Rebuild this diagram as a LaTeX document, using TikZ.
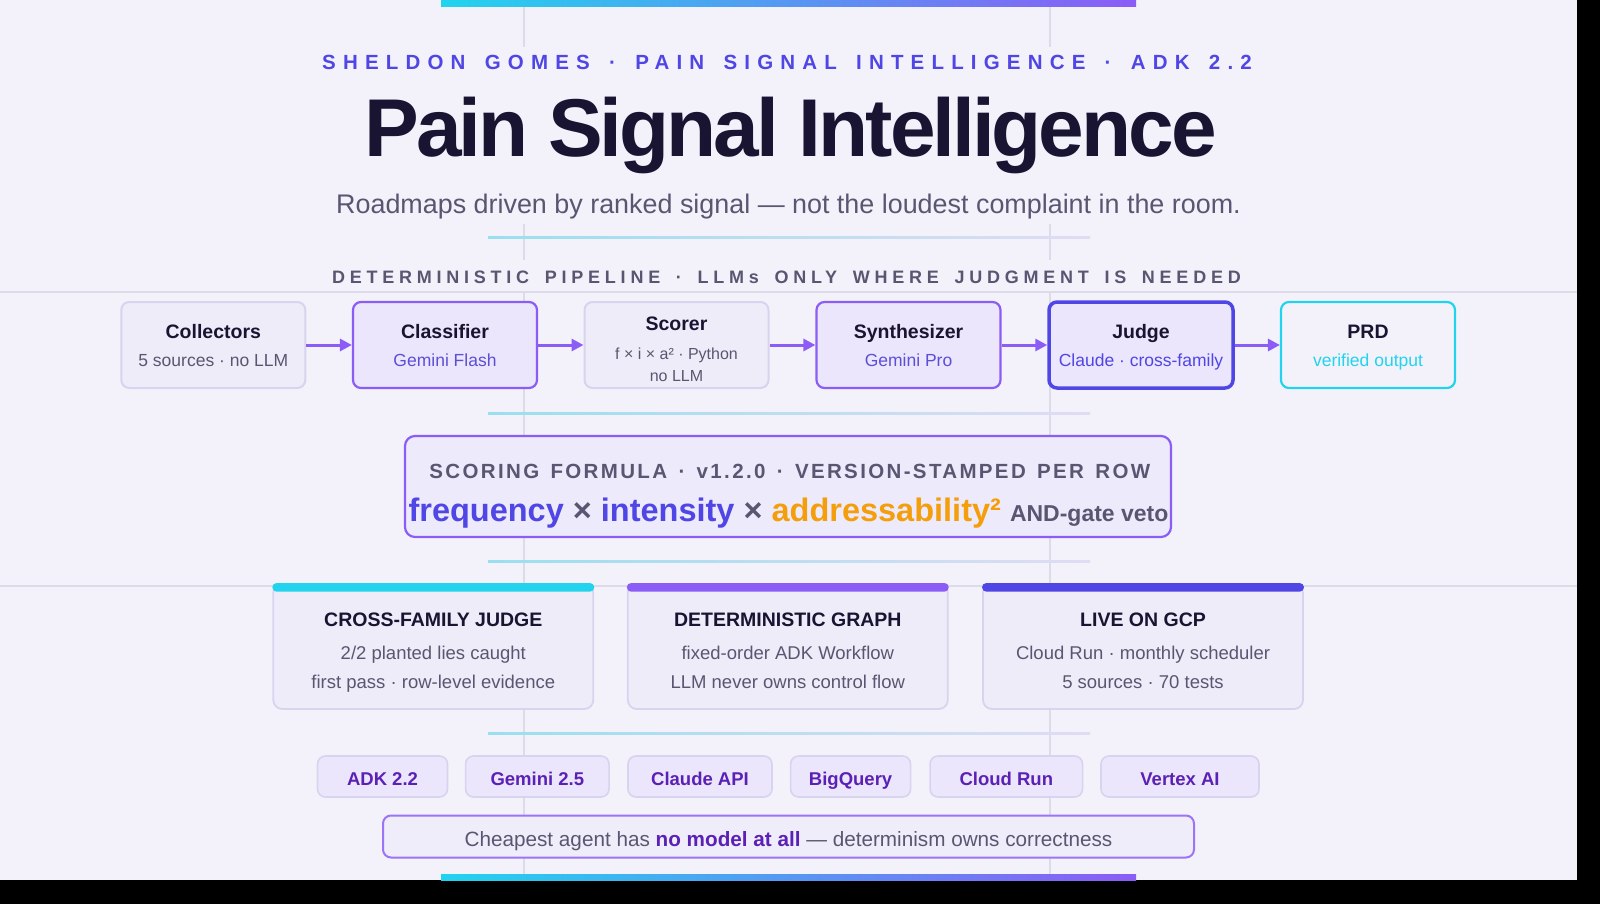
\documentclass[tikz,border=0pt]{standalone}
\usepackage{fontspec}
\setmainfont{Liberation Sans}
\newfontfamily\kickerfont[LetterSpace=35,WordSpace=1.5]{Liberation Sans}
\newfontfamily\trackfont[LetterSpace=26.5,WordSpace=1.6]{Liberation Sans}
\newfontfamily\formulafont[LetterSpace=11.5,WordSpace=1.41]{Liberation Sans}
\newfontfamily\headlinefont[LetterSpace=-3.7]{Liberation Sans}
\usetikzlibrary{arrows.meta}

\definecolor{pagebg}{HTML}{F3F2FB}
\definecolor{ink}{HTML}{1A1433}
\definecolor{muted}{HTML}{5A5672}
\definecolor{brandindigo}{HTML}{4F46E5}
\definecolor{brandviolet}{HTML}{8B5CF6}
\definecolor{brandcyan}{HTML}{22D3EE}
\definecolor{brandamber}{HTML}{F59E0B}
\definecolor{grape}{HTML}{5B21B6}
\definecolor{softfill}{HTML}{EEECF9}
\definecolor{softline}{HTML}{D8D3EE}
\definecolor{agentfill}{HTML}{EBE6FB}
\definecolor{agenttext}{HTML}{5B4FD6}
\definecolor{gridline}{HTML}{DDDAEA}
\definecolor{sepstart}{HTML}{9ADFEE}
\definecolor{sepend}{HTML}{E0DCF3}

\newcommand{\stagetitle}[1]{{\fontsize{19.5}{22}\selectfont\bfseries\color{ink}#1}}

\begin{document}
\begin{tikzpicture}[x=1pt,y=-1pt,
  textline/.style={anchor=base, inner sep=0pt},
  stage/.style={draw=softline, line width=2pt, fill=softfill, rounded corners=8pt,
    minimum width=184pt, minimum height=86pt, inner sep=0pt, align=center,
    text height=42.6pt, text depth=0pt, text=muted, font=\fontsize{17.5}{22}\selectfont},
  llmstage/.style={stage, draw=brandviolet, line width=2.2pt, fill=agentfill, text=agenttext},
  flow/.style={-{Triangle[length=12pt,width=12pt]}, line width=3pt, draw=brandviolet},
  card/.style={draw=softline, line width=1.8pt, fill=softfill, rounded corners=9pt,
    minimum width=320pt, minimum height=125pt},
  cardtitle/.style={textline, text=ink, font=\fontsize{19.5}{22}\selectfont\bfseries},
  cardline/.style={textline, text=muted, font=\fontsize{18.5}{22}\selectfont},
  chip/.style={draw=softline, line width=1.6pt, fill=agentfill, rounded corners=8pt,
    minimum height=41pt, inner sep=0pt, text height=18.3pt, text depth=0pt,
    text=grape, font=\fontsize{18.5}{22}\selectfont\bfseries}]
\useasboundingbox (0,0) rectangle (1600,904);
\fill[black] (0,0) rectangle (1600,904);
\fill[pagebg] (0,0) rectangle (1577,880);

% guide lines
\foreach \gx in {524,1050} {
  \draw[gridline, line width=1.2pt] (\gx,0) -- (\gx,47);
  \draw[gridline, line width=1.2pt] (\gx,224) -- (\gx,260);
  \draw[gridline, line width=1.2pt] (\gx,292) -- (\gx,880);
}
\draw[gridline, line width=1.5pt] (0,292) -- (1577,292);
\draw[gridline, line width=1.5pt] (0,586) -- (1577,586);

% accent bars and separators
\shade[left color=brandcyan, right color=brandviolet] (441,0) rectangle (1136,6.5);
\shade[left color=brandcyan, right color=brandviolet] (441,874) rectangle (1136,880);
\foreach \sy in {237,413,561,733}
  \shade[left color=sepstart, right color=sepend] (488,\sy-1) rectangle (1090,\sy+1);

% header
\node[textline, text=brandindigo, font=\kickerfont\fontsize{20.5}{24}\selectfont\bfseries] (kicker) at (787,70) {SHELDON GOMES · PAIN SIGNAL INTELLIGENCE · ADK 2.2};
\node[textline, text=ink, font=\headlinefont\fontsize{82}{90}\selectfont\bfseries] (headline) at (790.5,157) {Pain Signal Intelligence};
\node[textline, text=muted, font=\fontsize{26.9}{30}\selectfont] (tagline) at (788.5,213) {Roadmaps driven by ranked signal — not the loudest complaint in the room.};
\node[textline, text=muted, font=\trackfont\fontsize{18}{22}\selectfont\bfseries] (pipelabel) at (786.4,283) {DETERMINISTIC PIPELINE · LLMs ONLY WHERE JUDGMENT IS NEEDED};

% pipeline
\node[stage] (collectors) at (213.3,345) {\stagetitle{Collectors}\\[6pt]5 sources · no LLM};
\node[llmstage] (classifier) at (445,345) {\stagetitle{Classifier}\\[6pt]Gemini Flash};
\node[stage, text height=73.4pt, font=\fontsize{16}{22}\selectfont] (scorer) at (676.5,345) {\stagetitle{Scorer}\\[7pt]f × i × a² · Python\\no LLM};
\node[llmstage] (synthesizer) at (908.5,345) {\stagetitle{Synthesizer}\\[6pt]Gemini Pro};
\node[llmstage, draw=brandindigo, line width=3.5pt, text=brandindigo] (judge) at (1141,345) {\stagetitle{Judge}\\[6pt]Claude · cross-family};
\node[stage, draw=brandcyan, line width=2.2pt, fill=pagebg, text=brandcyan, minimum width=174pt] (prd) at (1368,345) {\stagetitle{PRD}\\[6pt]verified output};
\draw[flow] (collectors) -- (classifier);
\draw[flow] (classifier) -- (scorer);
\draw[flow] (scorer) -- (synthesizer);
\draw[flow] (synthesizer) -- (judge);
\draw[flow] (judge) -- (prd);

% scoring formula
\node[draw=brandviolet, line width=2.2pt, fill=agentfill!70!pagebg, rounded corners=10pt,
  minimum width=766pt, minimum height=101pt] (formula) at (788,486.5) {};
\node[textline, text=muted, font=\formulafont\fontsize{20.5}{24}\selectfont\bfseries] (formulahead) at (789.8,478) {SCORING FORMULA · v1.2.0 · VERSION-STAMPED PER ROW};
\node[textline, text=muted, font=\fontsize{32.5}{36}\selectfont\bfseries] (formulatext) at (788.5,521) {\textcolor{brandindigo}{frequency} × \textcolor{brandindigo}{intensity} × \textcolor{brandamber}{addressability²} {\fontsize{23}{26}\selectfont AND-gate veto}};

% cards
\node[card] (judgecard) at (433.3,646.5) {};
\node[card] (graphcard) at (787.8,646.5) {};
\node[card] (gcpcard) at (1143,646.5) {};
\fill[brandcyan, rounded corners=4pt] (judgecard.north west) rectangle ([yshift=-8.5pt]judgecard.north east);
\fill[brandviolet, rounded corners=4pt] (graphcard.north west) rectangle ([yshift=-8.5pt]graphcard.north east);
\fill[brandindigo, rounded corners=4pt] (gcpcard.north west) rectangle ([yshift=-8.5pt]gcpcard.north east);
\node[cardtitle] (judgetitle) at (433.3,626) {CROSS-FAMILY JUDGE};
\node[cardline] (judgeline1) at (433.3,659) {2/2 planted lies caught};
\node[cardline] (judgeline2) at (433.3,688) {first pass · row-level evidence};
\node[cardtitle] (graphtitle) at (787.8,626) {DETERMINISTIC GRAPH};
\node[cardline] (graphline1) at (787.8,659) {fixed-order ADK Workflow};
\node[cardline] (graphline2) at (787.8,688) {LLM never owns control flow};
\node[cardtitle] (gcptitle) at (1143,626) {LIVE ON GCP};
\node[cardline] (gcpline1) at (1143,659) {Cloud Run · monthly scheduler};
\node[cardline] (gcpline2) at (1143,688) {5 sources · 70 tests};

% stack chips
\node[chip, minimum width=130pt] (adk) at (382.5,776.5) {ADK 2.2};
\node[chip, minimum width=143.5pt] (gemini) at (537.3,776.5) {Gemini 2.5};
\node[chip, minimum width=144pt] (claude) at (700,776.5) {Claude API};
\node[chip, minimum width=120pt] (bigquery) at (850.6,776.5) {BigQuery};
\node[chip, minimum width=152.5pt] (cloudrun) at (1006.3,776.5) {Cloud Run};
\node[chip, minimum width=158pt] (vertex) at (1180,776.5) {Vertex AI};

% closing note
\node[draw=brandviolet!85, line width=2pt, fill=pagebg!60!agentfill, rounded corners=8pt,
  minimum width=811pt, minimum height=42pt, inner sep=0pt, text height=20.7pt, text depth=0pt,
  text=muted, font=\fontsize{20.7}{24}\selectfont] (note) at (788.5,836.5)
  {Cheapest agent has \textbf{\textcolor{grape}{no model at all}} — determinism owns correctness};
\end{tikzpicture}
\end{document}
